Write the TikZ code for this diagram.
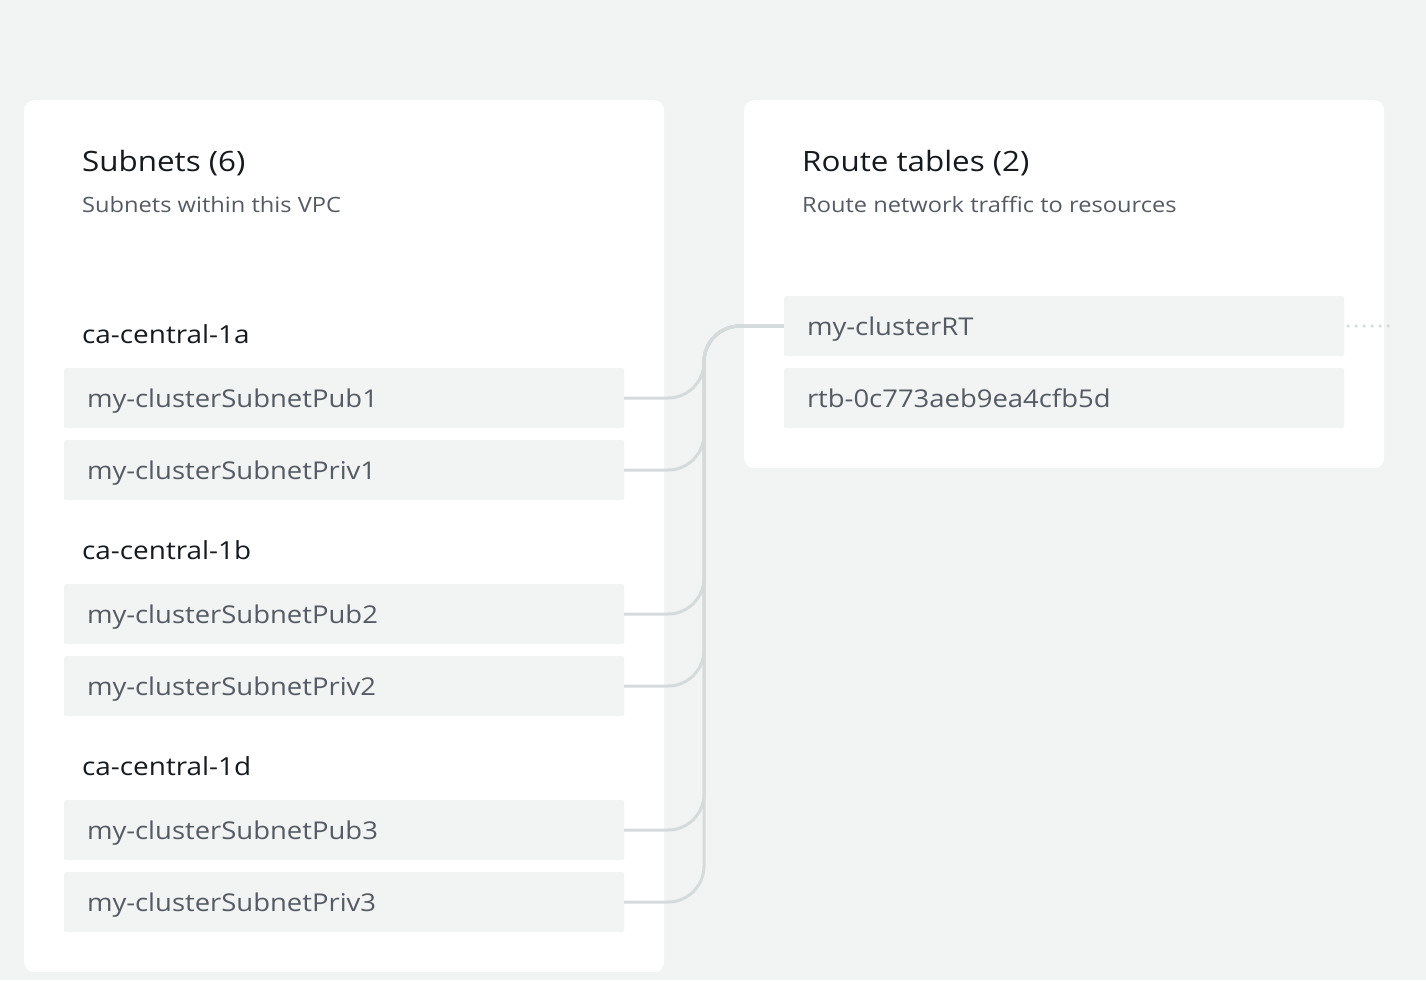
\documentclass[tikz,border=0pt]{standalone}
\usepackage{fontspec}
\setmainfont[FakeStretch=1.12]{Open Sans}
\definecolor{bgc}{HTML}{F2F3F3}
\definecolor{rowc}{HTML}{F2F3F3}
\definecolor{titlec}{HTML}{16191F}
\definecolor{subc}{HTML}{545B64}
\definecolor{linec}{HTML}{D5DBDB}
\begin{document}
\begin{tikzpicture}[x=1pt,y=-1pt,
  card/.style={fill=white,draw=none,rounded corners=10pt},
  titletxt/.style={anchor=base west,inner sep=0pt,text=titlec,font=\fontsize{28}{32}\selectfont},
  subtxt/.style={anchor=base west,inner sep=0pt,text=subc,font=\fontsize{21.1}{25}\selectfont},
  regtxt/.style={anchor=base west,inner sep=0pt,text=titlec,font=\fontsize{24.9}{28}\selectfont},
  rowbox/.style={fill=rowc,draw=none,rounded corners=2pt,minimum height=60pt,text width=514pt,inner xsep=23pt,inner ysep=0pt,text height=20pt,text depth=1pt,align=left,text=subc,font=\fontsize{24.5}{30}\selectfont},
  conn/.style={draw=linec,line width=3pt,rounded corners=36pt},
  dotline/.style={draw=linec,line width=3.5pt,line cap=round,dash pattern=on 0pt off 8pt}
]
\useasboundingbox (0,0) rectangle (1426,980);
\fill[bgc] (0,0) rectangle (1426,980);
\node[card,minimum width=640pt,minimum height=872pt,anchor=north west] (leftcard) at (24,100) {};
\node[card,minimum width=640pt,minimum height=368pt,anchor=north west] (rightcard) at (744,100) {};

\node[titletxt] (t1) at (82,171) {Subnets (6)};
\node[subtxt] (st1) at (82,212) {Subnets within this VPC};
\node[titletxt] (t2) at (802,171) {Route tables (2)};
\node[subtxt] (st2) at (802,212) {Route network traffic to resources};

\node[regtxt] (ra) at (82,343) {ca-central-1a};
\node[regtxt] (rb) at (82,559) {ca-central-1b};
\node[regtxt] (rd) at (82,775) {ca-central-1d};

\node[rowbox] (s1) at (344,398) {my-clusterSubnetPub1};
\node[rowbox] (s2) at (344,470) {my-clusterSubnetPriv1};
\node[rowbox] (s3) at (344,614) {my-clusterSubnetPub2};
\node[rowbox] (s4) at (344,686) {my-clusterSubnetPriv2};
\node[rowbox] (s5) at (344,830) {my-clusterSubnetPub3};
\node[rowbox] (s6) at (344,902) {my-clusterSubnetPriv3};

\node[rowbox] (r1) at (1064,326) {my-clusterRT};
\node[rowbox] (r2) at (1064,398) {rtb-0c773aeb9ea4cfb5d};

\coordinate (bus) at (704,326);
\foreach \s in {s1,s2,s3,s4,s5,s6}{
  \draw[conn] (\s.east) -| (bus) -- (r1.west);
}
\coordinate (dotend) at (1390,326);
\draw[dotline] ([xshift=4pt]r1.east) -- (dotend);
\end{tikzpicture}
\end{document}
